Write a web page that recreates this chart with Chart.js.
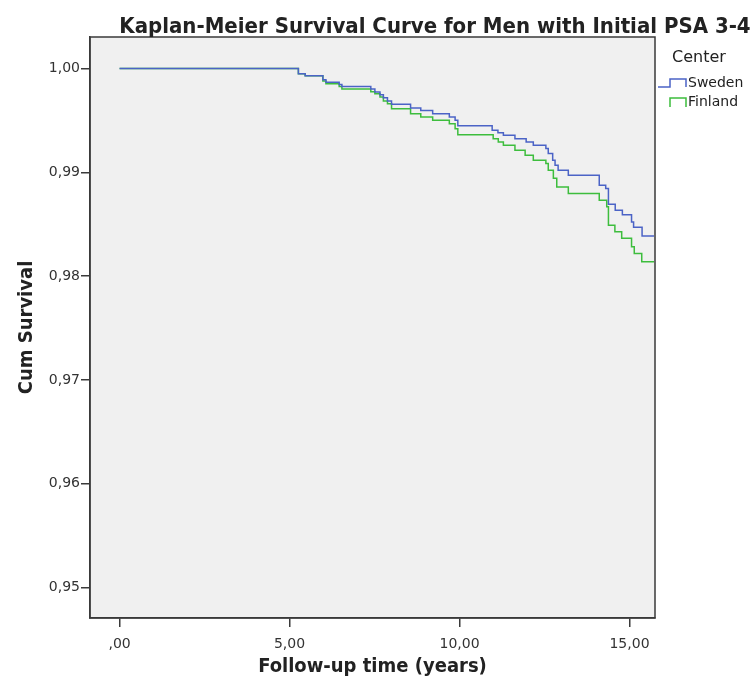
<!DOCTYPE html>
<html>
<head>
<meta charset="utf-8">
<title>Kaplan-Meier Survival Curve</title>
<script src="https://cdn.jsdelivr.net/npm/chart.js@4.4.0/dist/chart.umd.min.js"></script>
<style>
  html, body { margin: 0; padding: 0; background: #fff; }
  canvas { display: block; }
</style>
</head>
<body>
<canvas id="kmChart" width="752" height="686"></canvas>
<script>
// --- DATA ---
const swedenTime = [0, 5.26, 5.46, 5.98, 6.07, 6.46, 6.54, 7.39, 7.51, 7.66, 7.76, 7.88, 8.00, 8.56, 8.86, 9.21, 9.70, 9.87, 9.95, 10.96, 11.13, 11.29, 11.63, 11.96, 12.17, 12.54, 12.61, 12.74, 12.81, 12.90, 13.20, 14.11, 14.30, 14.38, 14.58, 14.79, 15.06, 15.12, 15.37, 15.72];
const swedenSurv = [1.0, 0.99949, 0.9993, 0.99891, 0.99868, 0.99846, 0.99827, 0.99801, 0.99772, 0.99747, 0.99718, 0.99686, 0.99654, 0.99618, 0.99596, 0.99564, 0.99532, 0.995, 0.99447, 0.99404, 0.9938, 0.99356, 0.99324, 0.99291, 0.9926, 0.99228, 0.9918, 0.99115, 0.99067, 0.99019, 0.98971, 0.98875, 0.98843, 0.98692, 0.98635, 0.98591, 0.98522, 0.98471, 0.98385, 0.98385];

const finlandTime = [0, 5.26, 5.46, 5.98, 6.07, 6.46, 6.54, 7.39, 7.51, 7.66, 7.76, 7.88, 8.00, 8.56, 8.86, 9.21, 9.70, 9.87, 9.95, 10.99, 11.14, 11.29, 11.63, 11.93, 12.17, 12.54, 12.61, 12.76, 12.86, 13.20, 14.11, 14.33, 14.38, 14.57, 14.77, 15.06, 15.14, 15.36, 15.72];
const finlandSurv = [1.0, 0.99949, 0.9993, 0.99878, 0.99853, 0.99827, 0.99801, 0.99776, 0.99757, 0.99724, 0.99686, 0.9966, 0.99612, 0.99564, 0.99532, 0.995, 0.99468, 0.9942, 0.99361, 0.99324, 0.99291, 0.9926, 0.99212, 0.99163, 0.99115, 0.99084, 0.99019, 0.98942, 0.98859, 0.98795, 0.98731, 0.98667, 0.9849, 0.98426, 0.98365, 0.98282, 0.98218, 0.98137, 0.98137];

const xTicks = [0, 5, 10, 15];
const xTickLabels = [",00", "5,00", "10,00", "15,00"];
const yTicks = [0.95, 0.96, 0.97, 0.98, 0.99, 1.00];
const yTickLabels = ["0,95", "0,96", "0,97", "0,98", "0,99", "1,00"];

const seriesNames = ["Sweden", "Finland"];
const seriesColors = ["#4b63c6", "#3dbd3d"];

// --- STYLE ---
const axisColor = "#3a3a3a";
const tickFont = { family: "'DejaVu Sans', sans-serif", size: 14 };
const titleFamily = "'DejaVu Sans Condensed', 'DejaVu Sans', sans-serif";

function toPoints(times, surv) {
    return times.map((t, i) => ({ x: t, y: surv[i] }));
}

// plot background + frame
const framePlugin = {
    id: "frame",
    beforeDraw(chart) {
        const { ctx, chartArea: a } = chart;
        ctx.save();
        ctx.fillStyle = "#f0f0f0";
        ctx.fillRect(a.left, a.top, a.right - a.left, a.bottom - a.top);
        ctx.restore();
    },
    afterDatasetsDraw(chart) {
        const { ctx, chartArea: a } = chart;
        ctx.save();
        ctx.strokeStyle = axisColor;
        ctx.lineWidth = 1.5;
        ctx.strokeRect(a.left, a.top, a.right - a.left, a.bottom - a.top);
        ctx.restore();
    }
};

// title and the SPSS style legend on the right
const textPlugin = {
    id: "texts",
    afterDraw(chart) {
        const ctx = chart.ctx;
        ctx.save();
        ctx.fillStyle = "#222";
        ctx.textBaseline = "alphabetic";
        ctx.textAlign = "center";
        ctx.font = "bold 22px " + titleFamily;
        ctx.fillText("Kaplan-Meier Survival Curve for Men with Initial PSA 3-4", 435, 33);

        ctx.textAlign = "left";
        ctx.textBaseline = "middle";
        ctx.font = "16px 'DejaVu Sans', sans-serif";
        ctx.fillText("Center", 672, 58);

        ctx.font = "14px 'DejaVu Sans', sans-serif";
        seriesNames.forEach((name, i) => {
            const y = 83 + i * 19;
            ctx.strokeStyle = seriesColors[i];
            ctx.lineWidth = 1.5;
            ctx.beginPath();
            if (i === 0) {
                ctx.moveTo(658, y + 4);
                ctx.lineTo(670, y + 4);
                ctx.lineTo(670, y - 4);
                ctx.lineTo(686, y - 4);
                ctx.lineTo(686, y + 4);
            } else {
                ctx.moveTo(670, y + 5);
                ctx.lineTo(670, y - 4);
                ctx.lineTo(686, y - 4);
                ctx.lineTo(686, y + 5);
            }
            ctx.stroke();
            ctx.fillStyle = "#222";
            ctx.fillText(name, 688, y);
        });
        ctx.restore();
    }
};

const ctx = document.getElementById("kmChart").getContext("2d");
new Chart(ctx, {
    type: "line",
    data: {
        datasets: [
            {
                label: seriesNames[0],
                data: toPoints(swedenTime, swedenSurv),
                borderColor: seriesColors[0],
                borderWidth: 1.5,
                stepped: true,
                pointRadius: 0,
                fill: false
            },
            {
                label: seriesNames[1],
                data: toPoints(finlandTime, finlandSurv),
                borderColor: seriesColors[1],
                borderWidth: 1.5,
                stepped: true,
                pointRadius: 0,
                fill: false
            }
        ]
    },
    options: {
        responsive: false,
        animation: false,
        layout: { padding: { left: 0, top: 37, right: 97, bottom: 0 } },
        scales: {
            x: {
                type: "linear",
                min: -0.87,
                max: 15.75,
                afterBuildTicks: s => { s.ticks = xTicks.map(v => ({ value: v })); },
                afterFit: s => { s.height = 68; },
                ticks: {
                    callback: (v, i) => xTickLabels[i],
                    font: tickFont,
                    color: "#333",
                    padding: 9,
                    maxRotation: 0
                },
                grid: { drawOnChartArea: false, tickLength: 9, color: axisColor, lineWidth: 1.5 },
                border: { color: axisColor, width: 1.5 },
                title: {
                    display: true,
                    text: "Follow-up time (years)",
                    font: { family: titleFamily, size: 20, weight: "bold" },
                    color: "#222",
                    padding: { top: 0, bottom: 7 }
                }
            },
            y: {
                min: 0.94706,
                max: 1.00303,
                afterBuildTicks: s => { s.ticks = yTicks.map(v => ({ value: v })); },
                afterFit: s => { s.width = 90; },
                ticks: {
                    callback: (v, i) => yTickLabels[i],
                    font: tickFont,
                    color: "#333",
                    padding: 1
                },
                grid: { drawOnChartArea: false, tickLength: 9, color: axisColor, lineWidth: 1.5 },
                border: { color: axisColor, width: 1.5 },
                title: {
                    display: true,
                    text: "Cum Survival",
                    font: { family: titleFamily, size: 20, weight: "bold" },
                    color: "#222",
                    padding: { top: 15, bottom: 0 }
                }
            }
        },
        plugins: {
            legend: { display: false },
            title: { display: false },
            tooltip: { enabled: false }
        }
    },
    plugins: [framePlugin, textPlugin]
});
</script>
</body>
</html>
